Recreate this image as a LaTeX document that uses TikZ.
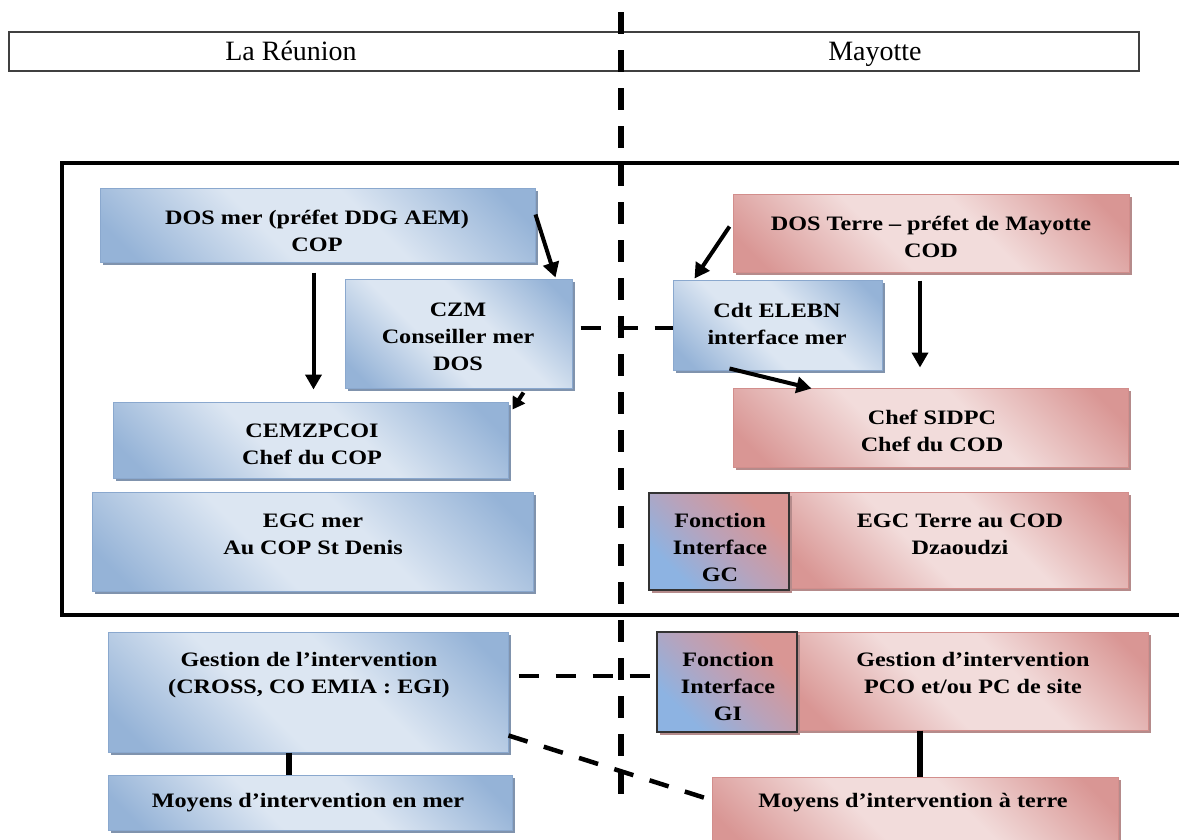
\documentclass[tikz,border=0pt]{standalone}
\usepackage{fontspec}
\newfontfamily\boxfont[FakeStretch=1.18]{Liberation Serif}
\newfontfamily\headfont{Liberation Serif}
\usetikzlibrary{arrows.meta,calc,shadows}

\definecolor{bdark}{HTML}{95B3D7}
\definecolor{blight}{HTML}{DCE6F2}
\definecolor{bline}{HTML}{8AA8CE}
\definecolor{bshade}{HTML}{8093AD}
\definecolor{rdark}{HTML}{D99694}
\definecolor{rlight}{HTML}{F2DCDB}
\definecolor{rline}{HTML}{D28E8C}
\definecolor{rshade}{HTML}{B58B8B}
\definecolor{mauve}{HTML}{B9A2BA}
\definecolor{iblue}{HTML}{8DB3E2}

\pgfdeclarehorizontalshading{bluesheen}{100bp}{color(0bp)=(bdark); color(20bp)=(bdark); color(42bp)=(blight); color(58bp)=(blight); color(80bp)=(bdark); color(100bp)=(bdark)}
\pgfdeclarehorizontalshading{redsheen}{100bp}{color(0bp)=(rdark); color(20bp)=(rdark); color(42bp)=(rlight); color(58bp)=(rlight); color(80bp)=(rdark); color(100bp)=(rdark)}
\pgfdeclarehorizontalshading{ifacesheen}{100bp}{color(0bp)=(iblue); color(28bp)=(iblue); color(50bp)=(mauve); color(72bp)=(rdark); color(100bp)=(rdark)}

\tikzset{
  x=1pt, y=-1pt,
  card/.style={rectangle, inner sep=0pt, line width=1pt, shade, shading angle=45},
  bluecard/.style={card, draw=bline, shading=bluesheen,
    drop shadow={shadow xshift=3pt, shadow yshift=-3pt, fill=bshade, opacity=1}},
  redcard/.style={card, draw=rline, shading=redsheen,
    drop shadow={shadow xshift=3pt, shadow yshift=-3pt, fill=rshade, opacity=1}},
  ifacecard/.style={card, draw=black!80, line width=1.2pt, shading=ifacesheen,
    drop shadow={shadow xshift=3pt, shadow yshift=-3pt, fill=rshade, opacity=1}},
  lbl/.style={inner sep=0pt, align=center, text=black,
    font=\boxfont\bfseries\fontsize{20.5}{27}\selectfont},
  headlbl/.style={inner sep=0pt, anchor=base, font=\headfont\fontsize{28}{32}\selectfont},
  arr/.style={line width=4pt, -{Triangle[length=15pt,width=16pt]}},
  smallarr/.style={line width=4pt, -{Triangle[length=12pt,width=14pt]}},
  dconn/.style={line width=4.5pt, dash pattern=on 20pt off 17pt},
  link/.style={line width=6.5pt},
  divider/.style={line width=5.5pt, dash pattern=on 22pt off 16pt}
}

\begin{document}
\begin{tikzpicture}
\useasboundingbox (0,0) rectangle (1179,839);
\clip (0,0) rectangle (1179,839);
\fill[white] (0,0) rectangle (1179,839);

% header band with the two territories
\node[draw=black!75, line width=1.3pt, minimum width=1130pt, minimum height=39pt, inner sep=0pt] (header) at (574,51.5) {};
\node[headlbl] (reunion) at (291,60) {La Réunion};
\node[headlbl] (mayotte) at (875,60) {Mayotte};

% crisis management frame
\draw[line width=4pt] (62,163) rectangle (1200,615);

% La Réunion side
\node[bluecard, minimum width=435pt, minimum height=74pt] (dosmer) at (317.5,225) {};
\node[lbl] (dosmer-t) at (317,231) {DOS mer (préfet DDG AEM)\\COP};
\node[bluecard, minimum width=227pt, minimum height=109pt] (czm) at (458.5,333.5) {};
\node[lbl] (czm-t) at (458,337) {CZM\\Conseiller mer\\DOS};
\node[bluecard, minimum width=395pt, minimum height=76pt] (cemz) at (310.5,440) {};
\node[lbl] (cemz-t) at (312,444) {CEMZPCOI\\Chef du COP};
\node[bluecard, minimum width=441pt, minimum height=99pt] (egcmer) at (312.5,541.5) {};
\node[lbl] (egcmer-t) at (313,534) {EGC mer\\Au COP St Denis};

% Mayotte side
\node[redcard, minimum width=396pt, minimum height=78pt] (dosterre) at (931,233) {};
\node[lbl] (dosterre-t) at (931,237) {DOS Terre – préfet de Mayotte\\COD};
\node[bluecard, minimum width=209pt, minimum height=90pt] (cdt) at (777.5,325) {};
\node[lbl] (cdt-t) at (777,324) {Cdt ELEBN\\interface mer};
\node[redcard, minimum width=395pt, minimum height=79pt] (sidpc) at (930.5,427.5) {};
\node[lbl] (sidpc-t) at (932,431) {Chef SIDPC\\Chef du COD};
\node[redcard, minimum width=339pt, minimum height=96pt] (egcterre) at (958.5,540) {};
\node[lbl] (egcterre-t) at (960,534) {EGC Terre au COD\\Dzaoudzi};
\node[ifacecard, minimum width=140pt, minimum height=97pt] (fgc) at (719,541.5) {};
\node[lbl] (fgc-t) at (720,547) {Fonction\\Interface\\GC};

% intervention level
\node[bluecard, minimum width=400pt, minimum height=120pt] (gestmer) at (308,692) {};
\node[lbl] (gestmer-t) at (309,675) {Gestion de l’intervention\\(CROSS, CO EMIA : EGI)};
\node[bluecard, minimum width=404pt, minimum height=55pt] (moyensmer) at (310,802.5) {};
\node[lbl] (moyensmer-t) at (308,803) {Moyens d’intervention en mer};
\node[redcard, minimum width=351pt, minimum height=98pt] (pco) at (972.5,681) {};
\node[lbl] (pco-t) at (973,673) {Gestion d’intervention\\PCO et/ou PC de site};
\node[ifacecard, minimum width=140pt, minimum height=100pt] (fgi) at (727,682) {};
\node[lbl] (fgi-t) at (728,686) {Fonction\\Interface\\GI};
\node[redcard, minimum width=406pt, minimum height=73pt] (moyterre) at (915,813.5) {};
\node[lbl] (moyterre-t) at (913,803) {Moyens d’intervention à terre};

% command arrows
\draw[arr] ($(dosmer.south)+(-4,10)$) -- ($(dosmer.south |- cemz.north)+(-4,-12)$);
\draw[arr] ($(dosmer.north east)+(0,27)$) -- ($(czm.north east)+(-17,-1)$);
\draw[smallarr] ($(czm.south east)+(-49,4)$) -- ($(cemz.north east)+(4,8)$);
\draw[arr] ($(dosterre.north west)+(-3,33)$) -- ($(cdt.north west)+(22,-1)$);
\draw[arr] ($(dosterre.south)+(-11,8)$) -- ($(dosterre.south |- sidpc.north)+(-11,-20)$);
\draw[arr] ($(cdt.south west)+(57,-2)$) -- ($(sidpc.north west)+(79,1)$);

% liaison links
\draw[dconn] ($(czm.east)+(8,-5.5)$) -- ($(cdt.west)+(0,3)$);
\draw[dconn] ($(gestmer.east)+(10,-16)$) -- ($(fgi.west)+(0,-6)$);
\draw[dconn] ($(gestmer.south east)+(0,-17)$) -- ($(moyterre.west)+(0,-13.5)$);
\draw[link] ($(gestmer.south)+(-19,0)$) -- ($(moyensmer.north)+(-21,0)$);
\draw[link] ($(pco.south)+(-52.5,0)$) -- ($(moyterre.north)+(5,0)$);

% boundary between the two territories
\coordinate (divtop) at (621,12);
\coordinate (divbot) at (621,805);
\draw[divider] (divtop) -- (divbot);
\end{tikzpicture}
\end{document}
